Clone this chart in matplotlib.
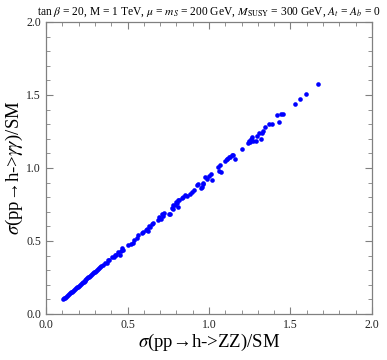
import matplotlib
matplotlib.use("Agg")
import matplotlib.pyplot as plt
from matplotlib.ticker import MultipleLocator

plt.rcParams["font.family"] = ["Liberation Serif", "DejaVu Serif"]
plt.rcParams["mathtext.fontset"] = "stix"

# dense band at low cross sections
zz_low = [0.104, 0.110, 0.116, 0.122, 0.128, 0.134, 0.140, 0.146, 0.152, 0.158,
          0.164, 0.170, 0.176, 0.182, 0.188, 0.194, 0.200, 0.206, 0.212, 0.218,
          0.224, 0.230, 0.236, 0.242, 0.248, 0.254, 0.260, 0.266, 0.272, 0.278,
          0.284, 0.290, 0.296, 0.302, 0.308, 0.314, 0.320, 0.326, 0.332, 0.338]
gg_low = [0.101, 0.106, 0.112, 0.118, 0.124, 0.130, 0.135, 0.141, 0.147, 0.153,
          0.158, 0.164, 0.170, 0.176, 0.181, 0.187, 0.193, 0.199, 0.204, 0.210,
          0.216, 0.222, 0.227, 0.233, 0.239, 0.245, 0.250, 0.256, 0.262, 0.268,
          0.273, 0.281, 0.286, 0.290, 0.297, 0.303, 0.306, 0.314, 0.321, 0.328]

# scattered points above
zz_high = [0.352, 0.362, 0.372, 0.382, 0.389, 0.403, 0.417, 0.423, 0.429, 0.444,
           0.454, 0.460, 0.464, 0.474, 0.505, 0.520, 0.536, 0.540, 0.556, 0.566,
           0.587, 0.597, 0.613, 0.618, 0.628, 0.634, 0.638, 0.648, 0.658, 0.689,
           0.695, 0.704, 0.710, 0.720, 0.724, 0.757, 0.761, 0.771, 0.777, 0.781,
           0.791, 0.798, 0.805, 0.808, 0.812, 0.818, 0.832, 0.842, 0.853, 0.867,
           0.883, 0.894, 0.906, 0.924, 0.931, 0.949, 0.955, 0.961, 0.965, 0.975,
           0.988, 1.002, 1.012, 1.017, 1.057, 1.061, 1.067, 1.072, 1.100, 1.109,
           1.112, 1.125, 1.129, 1.139, 1.145, 1.161, 1.202, 1.237, 1.243, 1.252,
           1.256, 1.266, 1.272, 1.286, 1.296, 1.309, 1.321, 1.323, 1.329, 1.346,
           1.370, 1.385, 1.419, 1.429, 1.440, 1.456, 1.528, 1.560, 1.595, 1.667]
gg_high = [0.336, 0.351, 0.351, 0.370, 0.370, 0.388, 0.392, 0.404, 0.404, 0.427,
           0.404, 0.432, 0.450, 0.438, 0.473, 0.479, 0.488, 0.507, 0.518, 0.541,
           0.553, 0.564, 0.575, 0.580, 0.571, 0.603, 0.598, 0.614, 0.621, 0.644,
           0.667, 0.649, 0.685, 0.671, 0.690, 0.685, 0.685, 0.724, 0.717, 0.747,
           0.747, 0.769, 0.758, 0.731, 0.781, 0.781, 0.792, 0.799, 0.815, 0.808,
           0.822, 0.838, 0.849, 0.884, 0.890, 0.861, 0.868, 0.895, 0.890, 0.936,
           0.923, 0.945, 0.961, 0.918, 1.005, 0.982, 1.021, 0.973, 1.048, 1.064,
           1.060, 1.073, 1.073, 1.089, 1.087, 1.064, 1.128, 1.173, 1.183, 1.180,
           1.197, 1.210, 1.187, 1.185, 1.219, 1.242, 1.201, 1.240, 1.256, 1.281,
           1.301, 1.303, 1.365, 1.317, 1.370, 1.372, 1.438, 1.471, 1.509, 1.573]

fig = plt.figure(figsize=(3.87, 3.6), dpi=100)
ax = fig.add_axes([0.119, 0.128, 0.842, 0.811])

ax.scatter(zz_low + zz_high, gg_low + gg_high, s=11, color="#0000ff", linewidths=0)

ax.set_xlim(0, 2)
ax.set_ylim(0, 2)
ax.xaxis.set_major_locator(MultipleLocator(0.5))
ax.yaxis.set_major_locator(MultipleLocator(0.5))
ax.xaxis.set_minor_locator(MultipleLocator(0.1))
ax.yaxis.set_minor_locator(MultipleLocator(0.1))
ax.tick_params(which="both", direction="in", top=True, right=True,
               color="#808080", labelsize=8.5, labelcolor="#222222")
ax.tick_params(which="major", length=5, width=0.8)
ax.tick_params(which="minor", length=3, width=0.6)
for sp in ax.spines.values():
    sp.set_color("#808080")
    sp.set_linewidth(0.9)

ax.set_xlabel(r"$\sigma$(pp→h->ZZ)/SM", fontsize=13.5, labelpad=1)
ax.set_ylabel(r"$\sigma$(pp→h->$\gamma\gamma$)/SM", fontsize=13.5, labelpad=1)
ax.set_title(r"tan $\beta$ = 20, M = 1 TeV, $\mu$ = $m_S$ = 200 GeV, "
             r"$M_{\rm SUSY}$ = 300 GeV, $A_t$ = $A_b$ = 0",
             fontsize=8.3, pad=5)

fig.savefig("out.png", dpi=100)
